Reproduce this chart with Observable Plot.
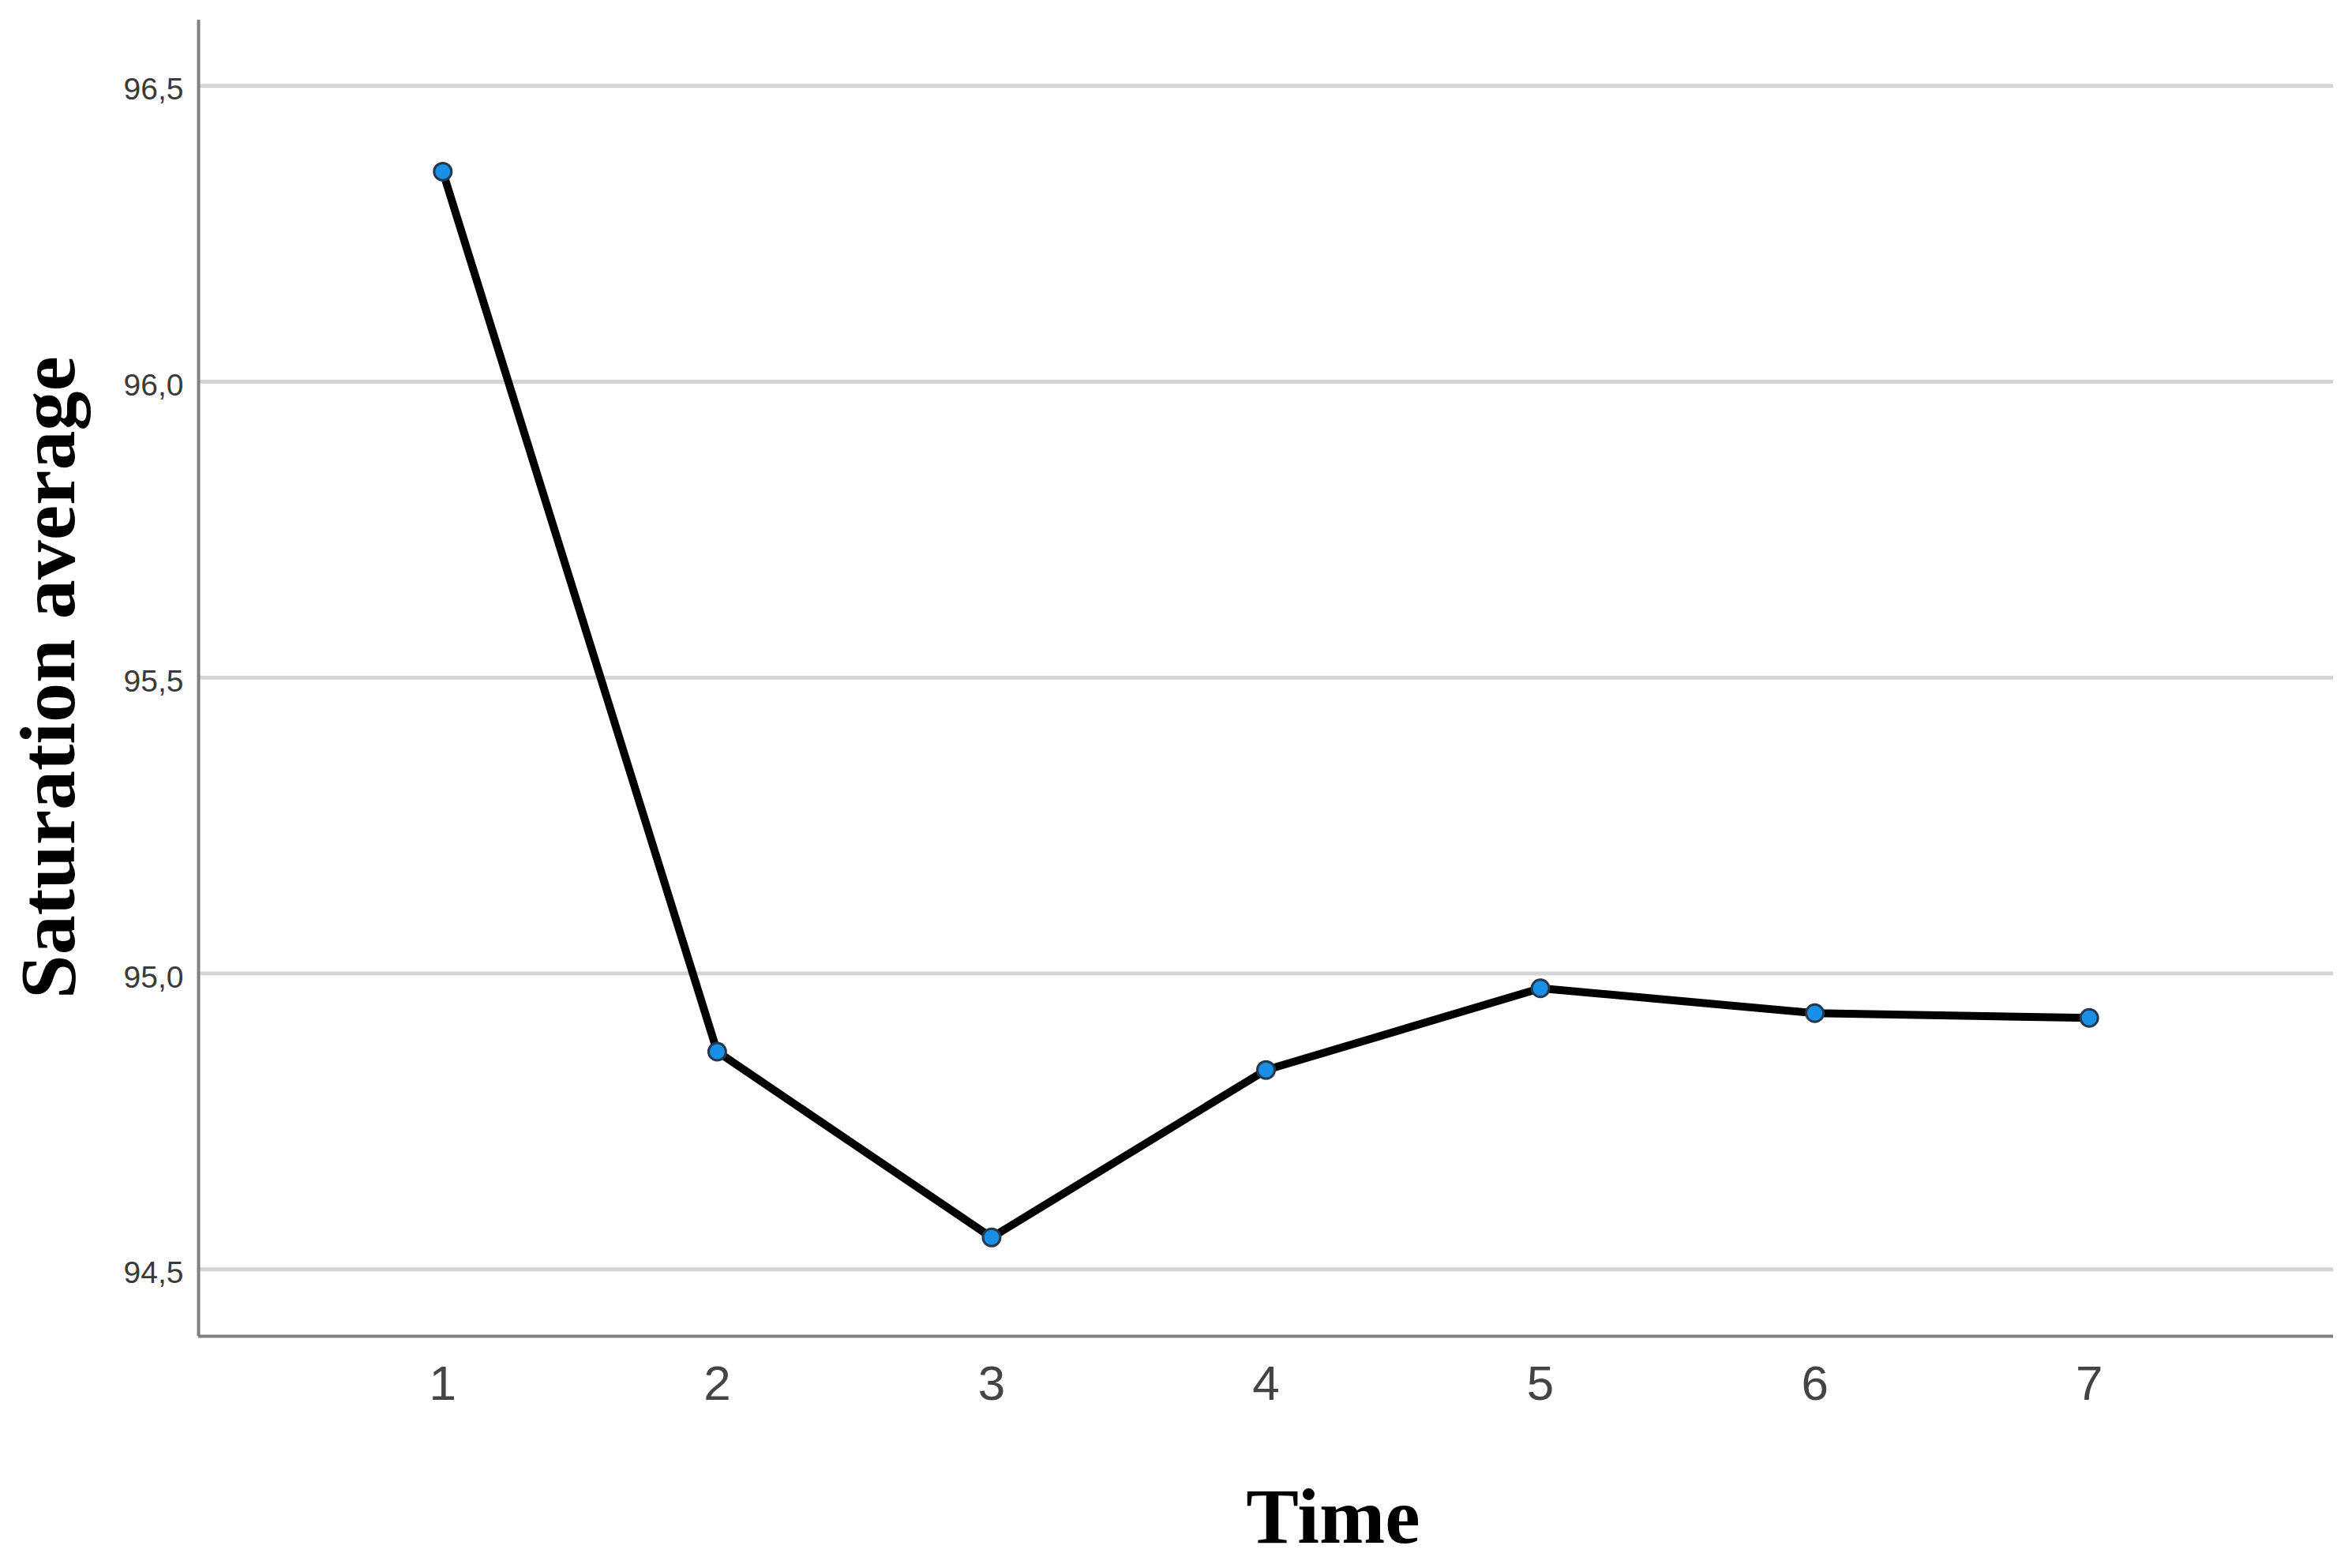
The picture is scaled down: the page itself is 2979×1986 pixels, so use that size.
<!DOCTYPE html>
<html>
<head>
<meta charset="utf-8">
<script src="https://cdn.jsdelivr.net/npm/d3@7"></script>
<script src="https://cdn.jsdelivr.net/npm/@observablehq/plot@0.6"></script>
<style>
  html, body { margin: 0; padding: 0; background: #fff; }
  #chart svg { display: block; }
</style>
</head>
<body>
<div id="chart"></div>
<script>
const times = [1, 2, 3, 4, 5, 6, 7];
const saturation = [96.355, 94.868, 94.554, 94.837, 94.975, 94.933, 94.925];
const yTicks = [94.5, 95.0, 95.5, 96.0, 96.5];
const xTicks = [1, 2, 3, 4, 5, 6, 7];
const xDomain = [0.11, 7.89];
const yDomain = [94.387, 96.611];
const xLabel = "Time";
const yLabel = "Saturation average";

const data = times.map((t, i) => ({time: t, value: saturation[i]}));

const chart = Plot.plot({
  width: 2979,
  height: 1986,
  marginLeft: 251,
  marginRight: 24,
  marginTop: 25,
  marginBottom: 294,
  style: {background: "#fff"},
  x: {type: "linear", domain: xDomain},
  y: {type: "linear", domain: yDomain},
  marks: [
    Plot.ruleY(yTicks, {stroke: "#d4d4d4", strokeWidth: 5}),
    Plot.ruleX([xDomain[0]], {stroke: "#808080", strokeWidth: 4}),
    Plot.ruleY([yDomain[0]], {stroke: "#808080", strokeWidth: 4}),
    Plot.axisY({
      ticks: yTicks,
      tickSize: 0,
      tickPadding: 19,
      tickFormat: d => d.toFixed(1).replace(".", ","),
      fontSize: 39,
      fontFamily: "'Liberation Sans', Arial, sans-serif",
      fill: "#3a3a3a",
      dy: 5,
      label: null
    }),
    Plot.axisX({
      ticks: xTicks,
      tickSize: 0,
      tickPadding: 36,
      tickFormat: d => String(d),
      fontSize: 62,
      fontFamily: "'Liberation Sans Narrow', 'Liberation Sans', Arial, sans-serif",
      fill: "#444",
      label: null
    }),
    Plot.line(data, {x: "time", y: "value", stroke: "#000", strokeWidth: 10, strokeLinejoin: "round", strokeLinecap: "round"}),
    Plot.dot(data, {x: "time", y: "value", r: 11, fill: "#1a8fe6", stroke: "#26384a", strokeWidth: 3}),
    Plot.text([xLabel], {
      text: d => d,
      frameAnchor: "bottom",
      dx: 85,
      dy: 229,
      lineAnchor: "middle",
      textAnchor: "middle",
      fontSize: 100,
      fontWeight: "bold",
      fontFamily: "'Liberation Serif', 'Times New Roman', serif",
      fill: "#000"
    }),
    Plot.text([yLabel], {
      text: d => d,
      frameAnchor: "left",
      dx: -190,
      dy: -1,
      rotate: -90,
      lineAnchor: "middle",
      textAnchor: "middle",
      fontSize: 100,
      fontWeight: "bold",
      fontFamily: "'Liberation Serif', 'Times New Roman', serif",
      fill: "#000"
    })
  ]
});

document.getElementById("chart").appendChild(chart);
</script>
</body>
</html>
